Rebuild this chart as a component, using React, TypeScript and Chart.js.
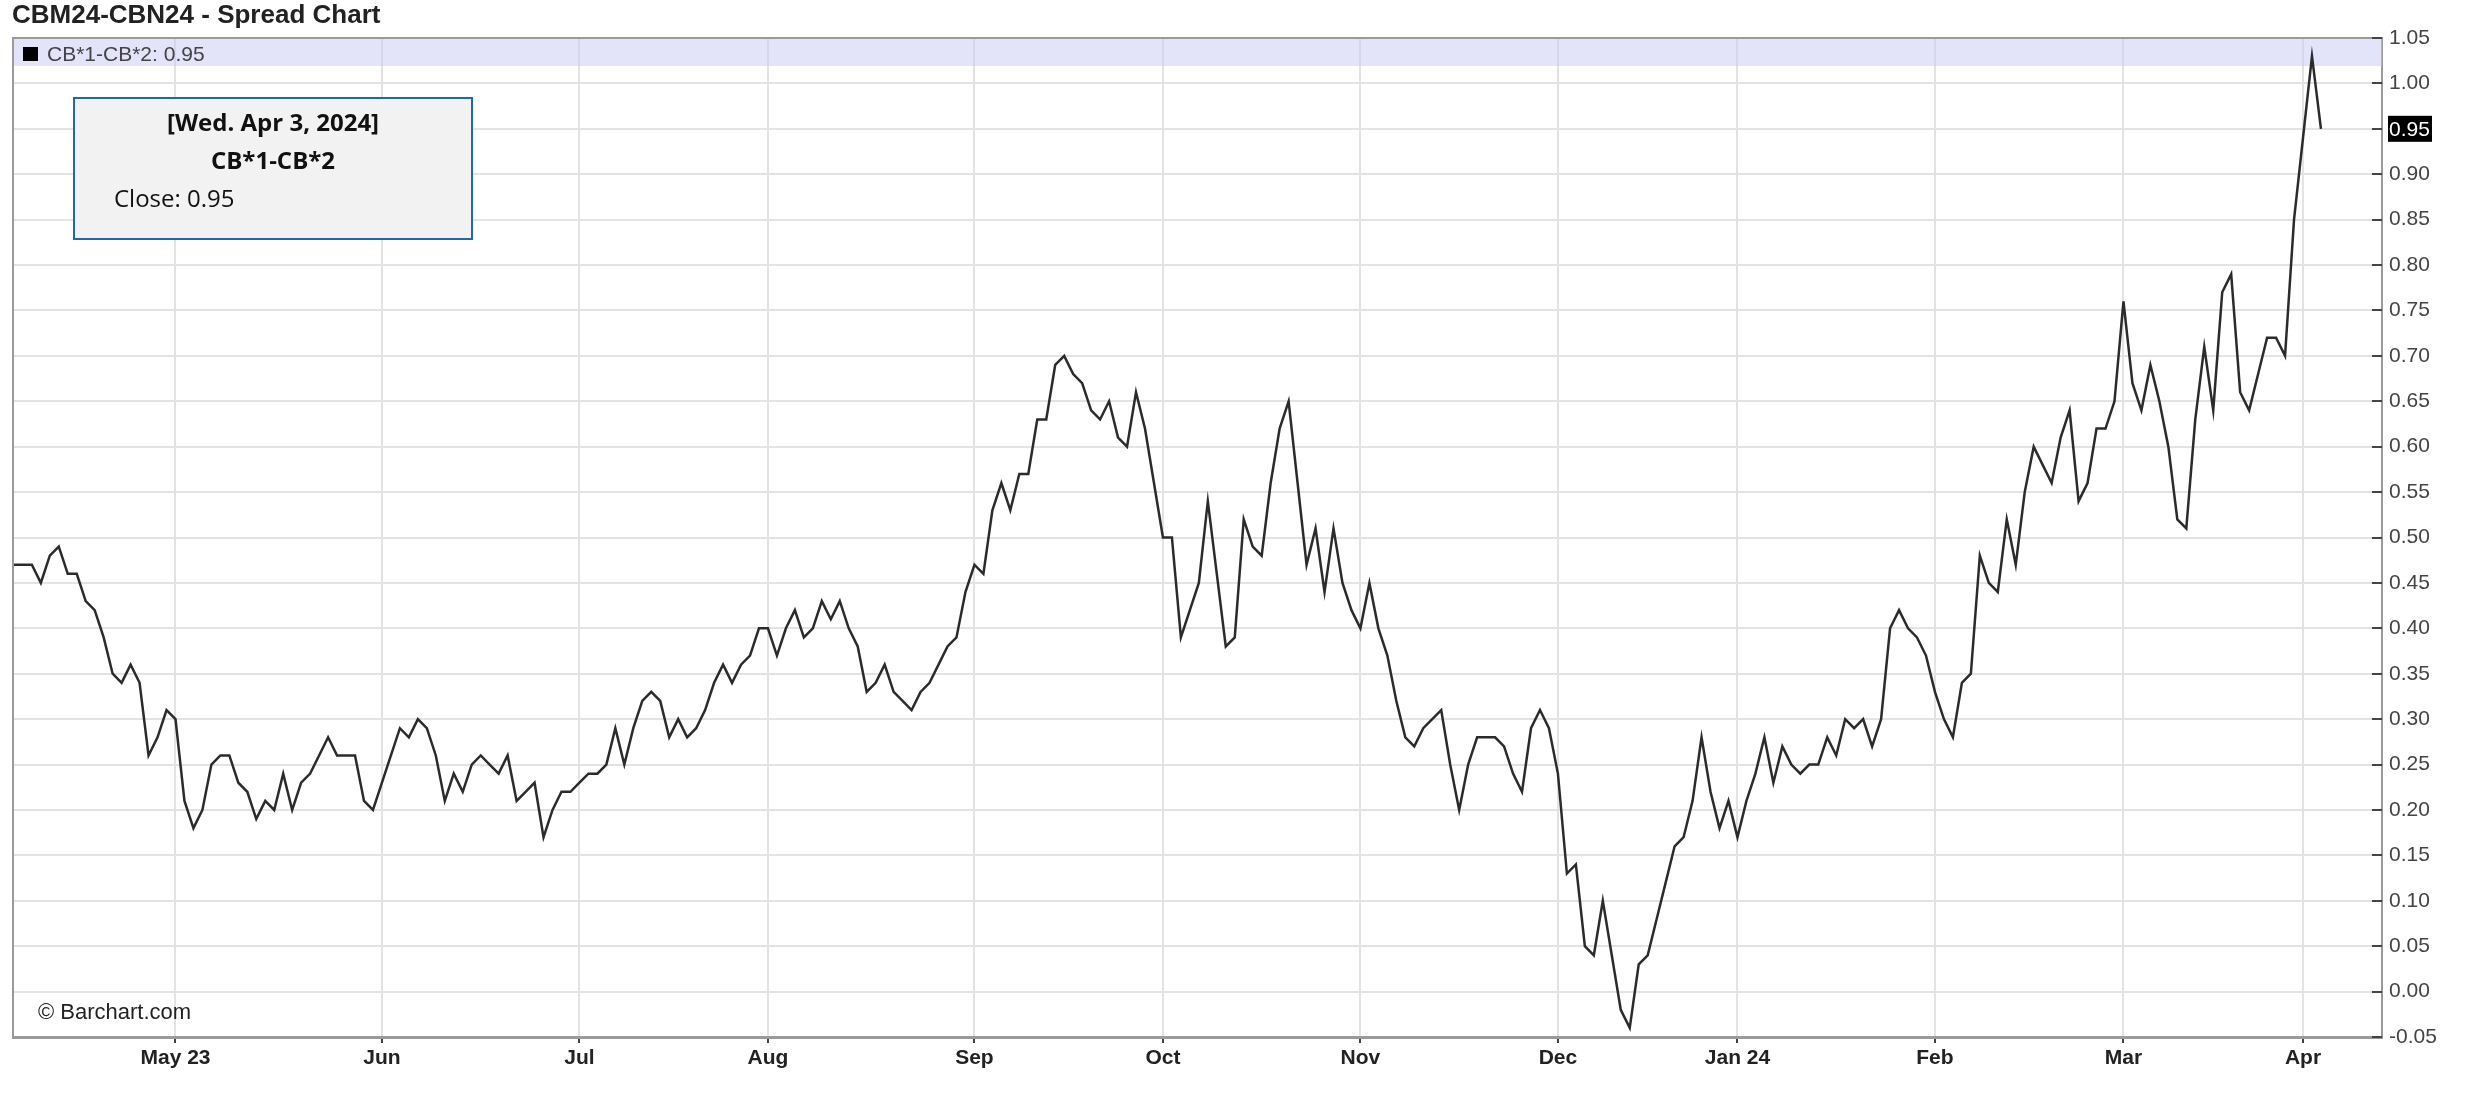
import React, { useEffect, useRef } from 'react';
import { Chart, registerables } from 'chart.js';

Chart.register(...registerables);

// ---------- text ----------
const TITLE = 'CBM24-CBN24 - Spread Chart';
const SERIES_NAME = 'CB*1-CB*2';
const TOOLTIP_DATE = '[Wed. Apr 3, 2024]';
const COPYRIGHT = '\u00A9 Barchart.com';

// ---------- calendar (trading days shown on the chart) ----------
const START_DATE = '2023-04-04';
const END_DATE = '2024-04-03';
const CLOSED_DAYS = ['2023-04-07', '2023-12-25', '2024-01-01', '2024-03-29'];
const MONTH_TICK_LABELS = ['May 23', 'Jun', 'Jul', 'Aug', 'Sep', 'Oct', 'Nov', 'Dec', 'Jan 24', 'Feb', 'Mar', 'Apr'];

// ---------- y-axis ticks ----------
const Y_TICK_VALUES = [-0.05, 0.0, 0.05, 0.1, 0.15, 0.2, 0.25, 0.3, 0.35, 0.4, 0.45, 0.5, 0.55, 0.6, 0.65, 0.7, 0.75, 0.8, 0.85, 0.9, 0.95, 1.0, 1.05];

// ---------- daily closes of the spread, by month ----------
const apr23 = [0.47, 0.47, 0.47, 0.45, 0.48, 0.49, 0.46, 0.46, 0.43, 0.42, 0.39, 0.35, 0.34, 0.36, 0.34, 0.26, 0.28, 0.31];
const may23 = [0.30, 0.21, 0.18, 0.20, 0.25, 0.26, 0.26, 0.23, 0.22, 0.19, 0.21, 0.20, 0.24, 0.20, 0.23, 0.24, 0.26, 0.28, 0.26, 0.26, 0.26, 0.21, 0.20];
const jun23 = [0.23, 0.26, 0.29, 0.28, 0.30, 0.29, 0.26, 0.21, 0.24, 0.22, 0.25, 0.26, 0.25, 0.24, 0.26, 0.21, 0.22, 0.23, 0.17, 0.20, 0.22, 0.22];
const jul23 = [0.23, 0.24, 0.24, 0.25, 0.29, 0.25, 0.29, 0.32, 0.33, 0.32, 0.28, 0.30, 0.28, 0.29, 0.31, 0.34, 0.36, 0.34, 0.36, 0.37, 0.40];
const aug23 = [0.40, 0.37, 0.40, 0.42, 0.39, 0.40, 0.43, 0.41, 0.43, 0.40, 0.38, 0.33, 0.34, 0.36, 0.33, 0.32, 0.31, 0.33, 0.34, 0.36, 0.38, 0.39, 0.44];
const sep23 = [0.47, 0.46, 0.53, 0.56, 0.53, 0.57, 0.57, 0.63, 0.63, 0.69, 0.70, 0.68, 0.67, 0.64, 0.63, 0.65, 0.61, 0.60, 0.66, 0.62, 0.56];
const oct23 = [0.50, 0.50, 0.39, 0.42, 0.45, 0.54, 0.46, 0.38, 0.39, 0.52, 0.49, 0.48, 0.56, 0.62, 0.65, 0.56, 0.47, 0.51, 0.44, 0.51, 0.45, 0.42];
const nov23 = [0.40, 0.45, 0.40, 0.37, 0.32, 0.28, 0.27, 0.29, 0.30, 0.31, 0.25, 0.20, 0.25, 0.28, 0.28, 0.28, 0.27, 0.24, 0.22, 0.29, 0.31, 0.29];
const dec23 = [0.24, 0.13, 0.14, 0.05, 0.04, 0.10, 0.04, -0.02, -0.04, 0.03, 0.04, 0.08, 0.12, 0.16, 0.17, 0.21, 0.28, 0.22, 0.18, 0.21];
const jan24 = [0.17, 0.21, 0.24, 0.28, 0.23, 0.27, 0.25, 0.24, 0.25, 0.25, 0.28, 0.26, 0.30, 0.29, 0.30, 0.27, 0.30, 0.40, 0.42, 0.40, 0.39, 0.37];
const feb24 = [0.33, 0.30, 0.28, 0.34, 0.35, 0.48, 0.45, 0.44, 0.52, 0.47, 0.55, 0.60, 0.58, 0.56, 0.61, 0.64, 0.54, 0.56, 0.62, 0.62, 0.65];
const mar24 = [0.76, 0.67, 0.64, 0.69, 0.65, 0.60, 0.52, 0.51, 0.63, 0.71, 0.64, 0.77, 0.79, 0.66, 0.64, 0.68, 0.72, 0.72, 0.70, 0.85];
const apr24 = [0.94, 1.03, 0.95];

const closes = [...apr23, ...may23, ...jun23, ...jul23, ...aug23, ...sep23, ...oct23, ...nov23, ...dec23, ...jan24, ...feb24, ...mar24, ...apr24];

function tradingDates(): string[] {
  const out: string[] = [];
  const d = new Date(START_DATE + 'T00:00:00Z');
  const end = new Date(END_DATE + 'T00:00:00Z');
  while (d.getTime() <= end.getTime()) {
    const wd = d.getUTCDay();
    const iso = d.toISOString().slice(0, 10);
    if (wd !== 0 && wd !== 6 && CLOSED_DAYS.indexOf(iso) < 0) out.push(iso);
    d.setUTCDate(d.getUTCDate() + 1);
  }
  return out;
}

const FONT = '"Liberation Sans", Arial, Helvetica, sans-serif';
const TIP_FONT = '"Open Sans", "Noto Sans", sans-serif';

export default function App() {
  const canvasRef = useRef<HTMLCanvasElement | null>(null);

  useEffect(() => {
    const canvas = canvasRef.current;
    if (!canvas) return;
    const dates = tradingDates();
    const n = Math.min(dates.length, closes.length);
    const monthStarts: number[] = [];
    for (let i = 1; i < n; i++) {
      if (dates[i].slice(0, 7) !== dates[i - 1].slice(0, 7)) monthStarts.push(i);
    }
    const points = closes.slice(0, n).map((v, i) => ({ x: i, y: v }));
    const last = closes[n - 1];

    const decor = {
      id: 'decor',
      beforeDatasetsDraw(chart: any) {
        const { ctx, chartArea: a } = chart;
        ctx.save();
        ctx.fillStyle = 'rgba(200,200,245,0.5)';
        ctx.fillRect(a.left, a.top, a.right - a.left, 28);
        ctx.restore();
      },
      afterDraw(chart: any) {
        const { ctx, chartArea: a } = chart;
        const ys = chart.scales.y;
        ctx.save();
        // plot frame (left + top)
        ctx.strokeStyle = '#9a9a9a';
        ctx.lineWidth = 2;
        ctx.beginPath();
        ctx.moveTo(a.left, a.bottom);
        ctx.lineTo(a.left, a.top);
        ctx.lineTo(a.right, a.top);
        ctx.stroke();
        // inner tick marks on right axis
        ctx.strokeStyle = '#444';
        ctx.lineWidth = 2;
        for (const v of Y_TICK_VALUES) {
          const py = Math.round(ys.getPixelForValue(v));
          ctx.beginPath();
          ctx.moveTo(a.right - 10, py);
          ctx.lineTo(a.right, py);
          ctx.stroke();
        }
        // legend strip contents
        ctx.fillStyle = '#000';
        ctx.fillRect(a.left + 10, a.top + 9, 15, 14);
        ctx.fillStyle = '#444';
        ctx.font = `21px ${FONT}`;
        ctx.textBaseline = 'alphabetic';
        ctx.textAlign = 'left';
        ctx.fillText(`${SERIES_NAME}: ${last.toFixed(2)}`, a.left + 34, a.top + 23);
        // title
        ctx.fillStyle = '#222';
        ctx.font = `bold 26px ${FONT}`;
        ctx.fillText(TITLE, 12, 23);
        // tooltip box
        const bx = 74, by = 98, bw = 398, bh = 141;
        ctx.fillStyle = '#f2f2f2';
        ctx.fillRect(bx, by, bw, bh);
        ctx.strokeStyle = '#1f66b3';
        ctx.lineWidth = 2;
        ctx.strokeRect(bx, by, bw, bh);
        ctx.fillStyle = '#111';
        ctx.textAlign = 'center';
        ctx.font = `bold 24px ${TIP_FONT}`;
        ctx.fillText(TOOLTIP_DATE, bx + bw / 2, 131);
        ctx.fillText(SERIES_NAME, bx + bw / 2, 169);
        ctx.textAlign = 'left';
        ctx.font = `24px ${TIP_FONT}`;
        ctx.fillText(`Close: ${last.toFixed(2)}`, 114, 207);
        // copyright
        ctx.fillStyle = '#222';
        ctx.font = `22px ${FONT}`;
        ctx.fillText(COPYRIGHT, 38, 1019);
        // last value marker on the axis
        const ly = ys.getPixelForValue(last);
        ctx.fillStyle = '#000';
        ctx.fillRect(a.right + 6, ly - 13, 44, 26);
        ctx.fillStyle = '#fff';
        ctx.font = `21px ${FONT}`;
        ctx.textBaseline = 'middle';
        ctx.fillText(last.toFixed(2), a.right + 7, ly + 1);
        ctx.restore();
      },
    };

    const chart = new Chart(canvas, {
      type: 'line',
      data: {
        datasets: [
          {
            label: SERIES_NAME,
            data: points,
            borderColor: '#2b2b2b',
            borderWidth: 2.5,
            pointRadius: 0,
            tension: 0,
            fill: false,
          },
        ],
      },
      options: {
        animation: false,
        responsive: false,
        events: [],
        layout: { padding: { left: 13, top: 38, right: 0, bottom: 0 } },
        plugins: {
          legend: { display: false },
          tooltip: { enabled: false },
          title: { display: false },
        },
        scales: {
          x: {
            type: 'linear',
            min: -0.1,
            max: 263.8,
            afterBuildTicks: (axis: any) => {
              axis.ticks = monthStarts.map((v) => ({ value: v }));
            },
            afterFit: (axis: any) => {
              axis.height = 63;
            },
            ticks: {
              autoSkip: false,
              maxRotation: 0,
              padding: 3,
              color: '#222',
              font: { family: FONT, size: 21, weight: 'bold' },
              callback: (value: any) => {
                const k = monthStarts.indexOf(Number(value));
                return k >= 0 ? MONTH_TICK_LABELS[k] : '';
              },
            },
            grid: { color: '#e3e3e3', lineWidth: 2, drawTicks: true, tickLength: 6, tickColor: '#444', tickWidth: 2 },
            border: { color: '#9a9a9a', width: 3 },
          },
          y: {
            position: 'right',
            min: -0.05,
            max: 1.05,
            afterBuildTicks: (axis: any) => {
              axis.ticks = Y_TICK_VALUES.map((v) => ({ value: v }));
            },
            afterFit: (axis: any) => {
              axis.width = 92;
            },
            ticks: {
              padding: 7,
              color: '#444',
              font: { family: FONT, size: 21 },
              callback: (value: any) => Number(value).toFixed(2),
            },
            grid: { color: '#e3e3e3', lineWidth: 2, drawTicks: false },
            border: { color: '#9a9a9a', width: 2 },
          },
        },
      } as any,
      plugins: [decor as any],
    });

    return () => chart.destroy();
  }, []);

  return (
    <div style={{ position: 'absolute', left: 0, top: 0, width: 2474, height: 1100, background: '#fff' }}>
      <canvas ref={canvasRef} width={2474} height={1100} style={{ width: 2474, height: 1100, display: 'block' }} />
    </div>
  );
}
